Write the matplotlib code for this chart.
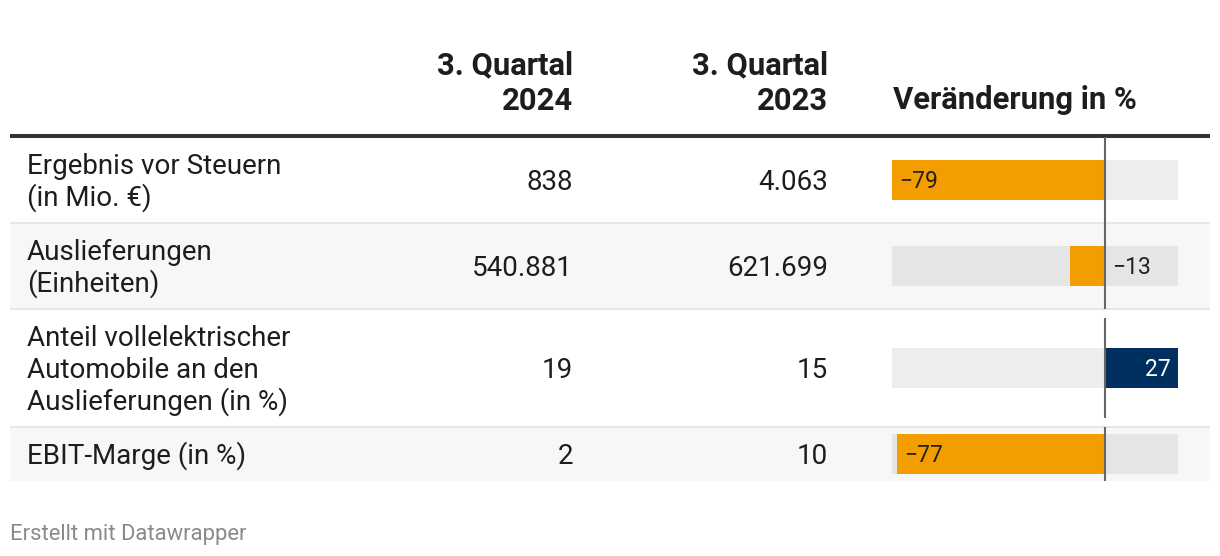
import matplotlib
matplotlib.use('Agg')
import matplotlib.pyplot as plt

plt.rcParams['font.family'] = ['Roboto', 'DejaVu Sans']

# data
row_labels = ['Ergebnis vor Steuern\n(in Mio. €)',
              'Auslieferungen\n(Einheiten)',
              'Anteil vollelektrischer\nAutomobile an den\nAuslieferungen (in %)',
              'EBIT-Marge (in %)']
q3_2024 = [838, 540881, 19, 2]
q3_2023 = [4063, 621699, 15, 10]
change = [-79, -13, 27, -77]
col_heads = ['3. Quartal\n2024', '3. Quartal\n2023', 'Veränderung in %']
footer = 'Erstellt mit Datawrapper'

TEXT = '#1d1d1d'
ORANGE = '#f49d00'
NAVY = '#00305f'
W, H = 1220, 556
LINE = 32          # px per text line
CAP_BODY = 19      # approx cap height in px
FS_BODY = 20
FS_HEAD = 22.3

def fmt(v):
    return f'{v:,}'.replace(',', '.')

fig = plt.figure(figsize=(W / 100, H / 100), dpi=100)
ax = fig.add_axes([0, 0, 1, 1])
ax.set_xlim(0, W); ax.set_ylim(H, 0); ax.axis('off')

# header
for xr, head in [(573, col_heads[0]), (828, col_heads[1])]:
    l1, l2 = head.split('\n')
    ax.text(xr, 74, l1, ha='right', va='baseline', fontsize=FS_HEAD, fontweight='bold', color=TEXT)
    ax.text(xr, 110, l2, ha='right', va='baseline', fontsize=FS_HEAD, fontweight='bold', color=TEXT)
ax.text(893, 109, col_heads[2], ha='left', va='baseline', fontsize=FS_HEAD, fontweight='bold', color=TEXT)
ax.add_patch(plt.Rectangle((10, 134), 1200, 3.5, color='#333333', lw=0))

# rows layout
tops, centers, heights = [], [], []
y = 137
for lab in row_labels:
    n = lab.count('\n') + 1
    h = 22 + LINE * n
    tops.append(y); heights.append(h); centers.append(y + h / 2)
    y += h

for i, lab in enumerate(row_labels):
    top, h, c = tops[i], heights[i], centers[i]
    if i % 2 == 1:
        ax.add_patch(plt.Rectangle((10, top), 1200, h, color='#f7f7f7', lw=0, zorder=0))
    if i > 0:
        ax.add_patch(plt.Rectangle((10, top - 1), 1200, 2, color='#e6e6e6', lw=0, zorder=1))
    lines = lab.split('\n')
    n = len(lines)
    for k, ln in enumerate(lines):
        b = c - (n - 1) * LINE / 2 + k * LINE + CAP_BODY / 2
        ax.text(27, b, ln, ha='left', va='baseline', fontsize=FS_BODY, color=TEXT)
    ax.text(573, c + CAP_BODY / 2, fmt(q3_2024[i]), ha='right', va='baseline', fontsize=FS_BODY, color=TEXT)
    ax.text(828, c + CAP_BODY / 2, fmt(q3_2023[i]), ha='right', va='baseline', fontsize=FS_BODY, color=TEXT)

ax.text(10, 540, footer, ha='left', va='baseline', fontsize=15.8, color='#8a8a8a')

# bar column
x0, x1 = 892, 1178
bx = fig.add_axes([x0 / W, 0, (x1 - x0) / W, 1])
lo, hi = min(change), max(change)
bx.set_xlim(lo, hi); bx.set_ylim(H, 0); bx.axis('off')
bx.barh(centers, [hi - lo] * len(change), left=lo, height=40, color='black', alpha=0.07, lw=0)
bx.barh(centers, change, height=40, color=[NAVY if v > 0 else ORANGE for v in change], lw=0, zorder=2)
for i, v in enumerate(change):
    top, h, c = tops[i], heights[i], centers[i]
    span = min(h, 100)
    bx.vlines(0, c - span / 2, c + span / 2, color='#666666', lw=1.5, zorder=3)
    bar_px = abs(v) * (x1 - x0) / (hi - lo)
    lab = f'{v}'.replace('-', '\u2212')
    yb = c + 8
    if bar_px > 50:
        if v < 0:
            bx.annotate(lab, (v, yb), xytext=(7, 0), textcoords='offset pixels',
                        ha='left', va='baseline', fontsize=16.5, color='#222222', zorder=4)
        else:
            bx.annotate(lab, (v, yb), xytext=(-7, 0), textcoords='offset pixels',
                        ha='right', va='baseline', fontsize=16.5, color='white', zorder=4)
    else:
        bx.annotate(lab, (0, yb), xytext=(7, 0), textcoords='offset pixels',
                    ha='left', va='baseline', fontsize=16.5, color='#222222', zorder=4)

fig.savefig('out.png', dpi=100, facecolor='white')
